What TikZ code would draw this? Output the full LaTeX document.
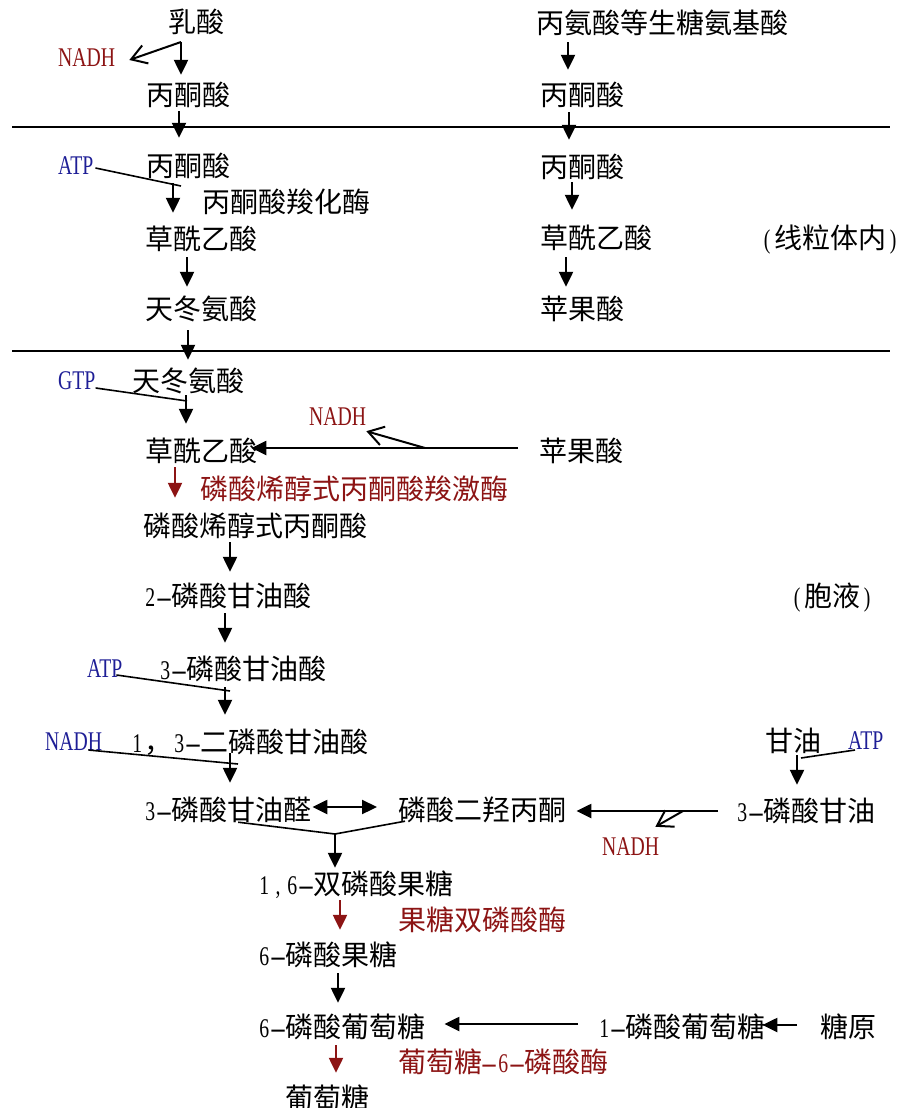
\documentclass[tikz,border=0pt]{standalone}
\usepackage{fontspec}
\usepackage{graphicx}
\newfontfamily\cjk{Noto Sans CJK SC}
\newfontfamily\latf[FakeStretch=0.73]{Liberation Serif}
\usetikzlibrary{arrows.meta,calc}
\definecolor{enzred}{RGB}{140,20,20}
\definecolor{cofblue}{RGB}{30,30,150}
% half-width Latin character cell
\newcommand\hw[1]{\makebox[14pt][c]{\latf\fontsize{27}{27}\selectfont #1}}
% half-width hyphen, drawn long as in the CJK face
\newcommand\hy{\makebox[14pt][c]{\latf\fontsize{27}{27}\selectfont\scalebox{2.6}[1]{-}}}
% cofactor label (Latin only), lifted to the ideograph centre line
\newcommand\cof[1]{\raisebox{1.7pt}{\latf\fontsize{27}{27}\selectfont #1}}
\begin{document}
\begin{tikzpicture}[x=1pt,y=-1pt,
  txt/.style={anchor=west,inner sep=0pt,font=\cjk\fontsize{28}{28}\selectfont,
              text height=24.6pt,text depth=3.4pt},
  enz/.style={txt,text=enzred},
  nad/.style={txt,text=enzred},
  blu/.style={txt,text=cofblue},
  arr/.style={draw=black,line width=2.3pt,-{Triangle[length=15pt,width=14pt]}},
  rarr/.style={arr,draw=enzred,-{Triangle[length=15pt,width=14pt,fill=enzred]}},
  darr/.style={draw=black,line width=2.3pt,{Triangle[length=15pt,width=14pt]}-{Triangle[length=15pt,width=14pt]}},
  barb/.style={draw=black,line width=2pt,-{Straight Barb[length=15pt,width=19pt,line width=2pt]}},
  cofl/.style={draw=black,line width=1.6pt},
  sepline/.style={draw=black,line width=2pt}]
\useasboundingbox (0,0) rectangle (899,1108);

% membrane lines
\draw[sepline] (12,127) -- (890,127);
\draw[sepline] (12,351) -- (890,351);

% left column
\node[txt] (lac)   at (168,22)  {乳酸};
\node[nad] (nadh1) at (58,58)   {\cof{NADH}};
\node[txt] (pyr1)  at (146,95)  {丙酮酸};
\node[blu] (atp1)  at (58,166)  {\cof{ATP}};
\node[txt] (pyr2)  at (146,166) {丙酮酸};
\node[txt] (pc)    at (202,202) {丙酮酸羧化酶};
\node[txt] (oaa3)  at (145,239) {草酰乙酸};
\node[txt] (asp4)  at (145,309) {天冬氨酸};
\node[blu] (gtp)   at (58,381)  {\cof{GTP}};
\node[txt] (asp5)  at (132,381) {天冬氨酸};
\node[nad] (nadh2) at (309,417) {\cof{NADH}};
\node[txt] (oaa6)  at (145,451) {草酰乙酸};
\node[enz] (pepck) at (200,489) {磷酸烯醇式丙酮酸羧激酶};
\node[txt] (pep)   at (143,526) {磷酸烯醇式丙酮酸};
\node[txt] (pga2)  at (143,596) {\hw{2}\hy 磷酸甘油酸};
\node[blu] (atp2)  at (87,669)  {\cof{ATP}};
\node[txt] (pga3)  at (158,669) {\hw{3}\hy 磷酸甘油酸};
\node[blu] (nadh4) at (45,742)  {\cof{NADH}};
\node[txt] (bpg)   at (130,742) {\hw{1}，\hw{3}\hy 二磷酸甘油酸};
\node[txt] (gap3)  at (143,810) {\hw{3}\hy 磷酸甘油醛};
\node[txt] (dhap)  at (398,810) {磷酸二羟丙酮};
\node[txt] (fbp)   at (257,884) {\hw{1}\hw{,}\hw{6}\hy 双磷酸果糖};
\node[enz] (fbpase) at (398,920) {果糖双磷酸酶};
\node[txt] (f6p)   at (257,955) {\hw{6}\hy 磷酸果糖};
\node[txt] (g6p)   at (257,1027) {\hw{6}\hy 磷酸葡萄糖};
\node[enz] (g6pase) at (398,1062) {葡萄糖\hy\hw{6}\hy 磷酸酶};
\node[txt] (glc)   at (285,1098) {葡萄糖};

% right column
\node[txt] (ala)   at (536,23)  {丙氨酸等生糖氨基酸};
\node[txt] (pyrR1) at (540,95)  {丙酮酸};
\node[txt] (pyrR2) at (540,167) {丙酮酸};
\node[txt] (oaaR3) at (540,238) {草酰乙酸};
\node[txt] (mito)  at (760,238) {\hw{(}线粒体内\hw{)}};
\node[txt] (malR4) at (540,309) {苹果酸};
\node[txt] (mal6)  at (539,451) {苹果酸};
\node[txt] (cyto)  at (790,596) {\hw{(}胞液\hw{)}};
\node[txt] (gly)   at (765,741) {甘油};
\node[blu] (atp3)  at (848,741) {\cof{ATP}};
\node[txt] (g3p)   at (735,811) {\hw{3}\hy 磷酸甘油};
\node[nad] (nadh3) at (602,847) {\cof{NADH}};
\node[txt] (g1p)   at (597,1027) {\hw{1}\hy 磷酸葡萄糖};
\node[txt] (glyc)  at (820,1027) {糖原};

% junction and cofactor attachment points
\coordinate (b1) at (181,42);
\coordinate (b2) at (425,448);
\coordinate (b3) at (683,811);
\coordinate (a1) at (181,186);
\coordinate (gt) at (187,401);
\coordinate (a2) at (230,691);
\coordinate (n4) at (238,764);
\coordinate (a3) at (801,758);
\coordinate (m)  at (335,834);

% lactate branch
\draw[arr,shorten >=6pt] (b1) -- (pyr1.north -| b1);
\draw[barb] (b1) -- ($(nadh1.east)+(14,2)$);

% left main chain
\draw[arr,shorten <=2pt,shorten >=14pt] (pyr1.south -| 179,0) -- (pyr2.north -| 179,0);
\draw[arr,shorten <=3pt,shorten >=12pt] (pyr2.south -| 173,0) -- (oaa3.north -| 173,0);
\draw[cofl] ($(atp1.east)+(2,2)$) -- (a1);
\draw[arr,shorten <=4pt,shorten >=8pt] (oaa3.south -| 187,0) -- (asp4.north -| 187,0);
\draw[arr,shorten <=7pt,shorten >=7pt] (asp4.south -| 188,0) -- (asp5.north -| 188,0);
\draw[arr,shorten <=0pt,shorten >=13pt] (asp5.south -| 186,0) -- (oaa6.north -| 186,0);
\draw[cofl] ($(gtp.east)+(0,7)$) -- (gt);
\draw[rarr,shorten <=2pt,shorten >=14pt] (oaa6.south -| 175,0) -- (pep.north -| 175,0);
\draw[arr,shorten <=2pt,shorten >=10pt] (pep.south -| 230,0) -- (pga2.north -| 230,0);
\draw[arr,shorten <=3pt,shorten >=12pt] (pga2.south -| 225,0) -- (pga3.north -| 225,0);
\draw[arr,shorten <=4pt,shorten >=13pt] (pga3.south -| 225,0) -- (bpg.north -| 225,0);
\draw[cofl] ($(atp2.east)+(-6,6)$) -- (a2);
\draw[arr,shorten <=-3pt,shorten >=13pt] (bpg.south -| 230,0) -- (gap3.north -| 230,0);
\draw[cofl] ($(nadh4.east)+(-14,8)$) -- (n4);

% triose phosphates merge into fructose bisphosphate
\draw[darr,shorten <=1pt,shorten >=21pt] ([yshift=3pt]gap3.east) -- ([yshift=3pt]dhap.west);
\draw[cofl] ($(gap3.south)+(11,-2)$) -- (m) -- ($(dhap.south west)+(7,-3)$);
\draw[arr,shorten >=2pt] (m) -- (fbp.north -| m);
\draw[rarr,shorten <=2pt,shorten >=11pt] (fbp.south -| 340,0) -- (f6p.north -| 340,0);
\draw[arr,shorten <=4pt,shorten >=10pt] (f6p.south -| 338,0) -- (g6p.north -| 338,0);
\draw[rarr,shorten <=4pt,shorten >=11pt] (g6p.south -| 336,0) -- (glc.north -| 336,0);

% right column chain
\draw[arr,shorten <=5pt,shorten >=11pt] (ala.south -| 568,0) -- (pyrR1.north -| 568,0);
\draw[arr,shorten <=3pt,shorten >=13pt] (pyrR1.south -| 569,0) -- (pyrR2.north -| 569,0);
\draw[arr,shorten <=1pt,shorten >=14pt] (pyrR2.south -| 572,0) -- (oaaR3.north -| 572,0);
\draw[arr,shorten <=5pt,shorten >=8pt] (oaaR3.south -| 566,0) -- (malR4.north -| 566,0);

% malate back to oxaloacetate in the cytosol
\draw[arr,shorten <=21pt,shorten >=-6pt] ([yshift=3pt]mal6.west) -- ([yshift=3pt]oaa6.east);
\draw[barb] (b2) -- (nadh2.south east);

% glycerol entry
\draw[arr,shorten <=0pt,shorten >=12pt] (gly.south -| 797,0) -- (g3p.north -| 797,0);
\draw[cofl] ($(atp3.west)+(7,9)$) -- (a3);
\draw[arr,shorten <=17pt,shorten >=10pt] (g3p.west) -- (g3p.west -| dhap.east);
\draw[barb] (b3) -- ($(nadh3.north east)+(-4,-6)$);

% glycogen entry
\draw[arr,shorten <=19pt,shorten >=19pt] ([yshift=3pt]g1p.west) -- ([yshift=3pt]g6p.east);
\draw[arr,shorten <=23pt,shorten >=-3pt] ([yshift=2pt]glyc.west) -- ([yshift=2pt]g1p.east);
\end{tikzpicture}
\end{document}
